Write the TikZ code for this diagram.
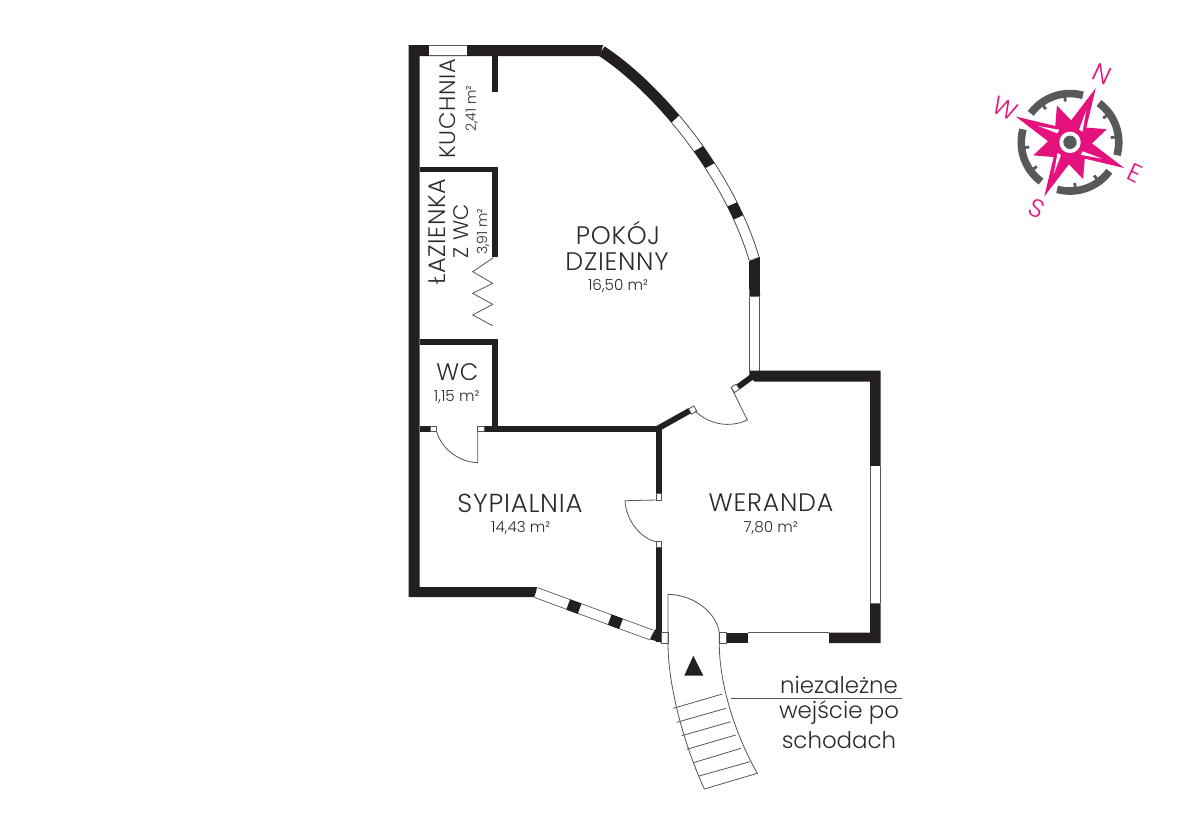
\documentclass[tikz,border=0pt]{standalone}
\usepackage{fontspec}
\setmainfont{Poppins}[UprightFont=* Light]
\newfontfamily\namefont{Poppins}[UprightFont=* Light,LetterSpace=3]
\definecolor{wallcol}{HTML}{231F20}
\definecolor{linecol}{HTML}{555555}
\definecolor{textcol}{HTML}{2B2B2B}
\definecolor{pinkcol}{HTML}{E5127D}
\definecolor{ringcol}{HTML}{58595B}
\tikzset{
  wall/.style={draw=wallcol,line width=0.275cm},
  thinwall/.style={draw=wallcol,line width=0.145cm},
  wallfill/.style={fill=wallcol},
  window/.style={draw=linecol,line width=0.02cm,double=white,double distance=0.235cm},
  jamb/.style={draw=linecol,line width=0.02cm,fill=white},
  thinline/.style={draw=linecol,line width=0.02cm},
  roomname/.style={text=textcol,font=\namefont\fontsize{#1}{20}\selectfont,inner sep=0pt},
  roomname/.default=18,
  roomarea/.style={text=textcol,font=\fontsize{#1}{12}\selectfont,inner sep=0pt},
  roomarea/.default=10.8,
  note/.style={text=textcol,font=\fontsize{16.3}{18}\selectfont,inner sep=0pt},
  compassletter/.style={text=pinkcol,font=\fontsize{18}{20}\selectfont,inner sep=0pt,rotate=-25},
}
\begin{document}
\begin{tikzpicture}[x=0.025cm,y=-0.025cm]
  \useasboundingbox (0,0) rectangle (1200,812);

  % outer walls, left side
  \fill[wallfill] (408.5,45) -- (603,45) -- (600,56) -- (419.5,56) -- (419.5,587)
    -- (537,587) -- (535,597) -- (408.5,597) -- cycle;
  \draw[window] (429,50.7) -- (467,50.7);

  % curved wall of the living room
  \draw[wall] (601.5,51) .. controls (658,88) and (728,172) .. (754,258.3);
  \begin{scope}
    \clip (690,105) -- (714,139.5) -- (684,157) -- (661,133) -- cycle
      (724.7,157.7) -- (747,198) -- (716,211) -- (695,174) -- cycle
      (754,210) -- (770,253.5) -- (738,266) -- (723,225) -- cycle;
    \draw[window] (601.5,51) .. controls (658,88) and (728,172) .. (754,258.3);
  \end{scope}
  \fill[wallfill] (759.8,257) -- (749,261) -- (749.3,296.7) -- (760,296.7) -- cycle;
  \draw[window] (754.6,296.7) -- (754.6,371);

  % inner walls
  \draw[thinwall] (495.3,56) -- (495.3,92);
  \draw[thinwall] (419.5,169.5) -- (498.3,169.5);
  \draw[thinwall] (495.3,166.7) -- (495.3,256.7);
  \draw[thinwall] (419.5,341.7) -- (498.3,341.7);
  \draw[thinwall] (495.3,339) -- (495.3,426);
  \draw[thinwall] (419.5,428.8) -- (430,428.8);
  \draw[thinwall] (484.3,428.8) -- (661.5,428.8);
  \draw[thinwall] (658.7,426) -- (658.7,493);
  \draw[thinwall] (658.7,547) -- (658.7,642);
  \draw[thinwall] (657,429) -- (690,410.5);
  \draw[thinwall] (738,387) -- (753,376);

  % zigzag door
  \draw[thinline] (493.3,257.7) -- (472.7,271.7) -- (492.7,283.3) -- (472.7,293.3)
    -- (492.7,304.3) -- (472.7,315) -- (492.7,325.7);

  % wc door
  \draw[jamb] (430,426) rectangle (436.7,431.7);
  \draw[jamb] (477.7,426) rectangle (484.3,431.7);
  \draw[thinline] (436.7,431.7) .. controls (442,450) and (460,462) .. (477.7,462.7) -- (477.7,431.7);

  % door between bedroom and veranda
  \draw[jamb] (656,493) rectangle (661.5,500);
  \draw[jamb] (656,541) rectangle (661.5,547);
  \draw[thinline] (656,500) -- (625,500.7) .. controls (626,520) and (640,538) .. (656,541.7);

  % veranda door
  \draw[jamb] (696.8,411.1) -- (693.8,405.9) -- (688.6,408.9) -- (691.6,414.1) -- cycle;
  \draw[jamb] (739.5,389.1) -- (736.1,384.1) -- (731.1,387.5) -- (734.5,392.5) -- cycle;
  \draw[thinline] (731.7,388.3) -- (747.3,420) .. controls (730,428) and (710,425) .. (695,411);

  % bedroom window
  \draw[window] (536,592.5) -- (651.5,635);
  \draw[wall] (568.2,604.5) -- (579.6,608.7);
  \draw[wall] (609.7,619.6) -- (621,623.8);
  \fill[wallfill] (655,629.3) -- (661.7,630) -- (661.7,642.7) -- (650,639.3) -- cycle;

  % veranda walls
  \fill[wallfill] (749.3,370.7) -- (880.7,370.7) -- (880.7,466) -- (870,466) -- (870,381.7)
    -- (755,381.7) -- (749.3,378) -- cycle;
  \draw[window] (875.3,466) -- (875.3,603.3);
  \fill[wallfill] (870,603.3) -- (880.7,603.3) -- (880.7,643) -- (829,643) -- (829,632.7)
    -- (870,632.7) -- cycle;
  \draw[window] (748.3,637.8) -- (829,637.8);
  \fill[wallfill] (726,632.7) rectangle (748.3,643);
  \draw[jamb] (661.5,632.7) rectangle (668,643);
  \draw[jamb] (719.3,632.7) rectangle (726,643);

  % entrance and stairs
  \draw[thinline] (668,594.3) .. controls (696.7,595) and (717.3,615) .. (719.3,633)
    -- (719.3,643) .. controls (719,675) and (730,725) .. (757.3,773.3) -- (704.3,789)
    .. controls (680,735) and (668,680) .. (668,643) -- cycle;
  \foreach \ya/\yb [count=\i] in {708.3/694,722.3/708.3,735.7/721.7,749.3/735,762.7/748.3,776/761.7}{
    \pgfmathsetmacro{\xa}{{673.3,676.7,681.7,686.7,693.3,699}[\i-1]}
    \pgfmathsetmacro{\xb}{{722.3,726,730.7,735.7,741,750}[\i-1]}
    \draw[thinline] (\xa,\ya) -- (\xb,\yb);
  }
  \fill[wallfill] (693.3,655.7) -- (703.3,675.7) -- (684.3,675.7) -- cycle;

  % labels
  \node[roomname=16,rotate=90] (kuchnia) at (447.7,109) {KUCHNIA};
  \node[roomarea=10,rotate=90] (kuchniaarea) at (471.7,108.7) {2,41 m²};
  \node[roomname=17,rotate=90] (lazienka) at (436.7,231.7) {ŁAZIENKA};
  \node[roomname=15,rotate=90] (lazienkawc) at (461,231) {Z WC};
  \node[roomarea=10,rotate=90] (lazienkaarea) at (483,231.7) {3,91 m²};
  \node[roomname] (pokoj) at (618,233) {POKÓJ};
  \node[roomname] (dzienny) at (617,261.5) {DZIENNY};
  \node[roomarea] (pokojarea) at (618,286) {16,50 m²};
  \node[roomname=17] (wc) at (457.3,371.7) {WC};
  \node[roomarea] (wcarea) at (456.7,397) {1,15 m²};
  \node[roomname=18.5] (sypialnia) at (520,503) {SYPIALNIA};
  \node[roomarea] (sypialniaarea) at (520.7,528) {14,43 m²};
  \node[roomname] (weranda) at (771,502.7) {WERANDA};
  \node[roomarea] (werandaarea) at (770.7,528) {7,80 m²};

  \node[note] (niezalezne) at (839,685) {niezależne};
  \node[note] (wejscie) at (839,713) {wejście po};
  \node[note] (schodach) at (839,740) {schodach};
  \coordinate (leaderstart) at (730.7,698.7);
  \coordinate (leaderend) at (902.3,698.7);
  \draw[thinline] (leaderstart) -- (leaderend);

  % compass
  \begin{scope}[shift={(1070,142.3)}]
    \foreach \a in {-64.6,25.4,115.4,205.4}{
      \draw[ringcol,line width=0.19cm] ({\a+11}:48.75) arc ({\a+11}:{\a+80}:48.75);
      \draw[ringcol,line width=0.07cm] ({\a+28.5}:46) -- ({\a+28.5}:41);
      \draw[ringcol,line width=0.07cm] ({\a+58}:46) -- ({\a+58}:41);
    }
    \fill[pinkcol] (-64.6:60) \foreach \a in {-64.6,25.4,115.4,205.4}{
      -- ({\a+22.5}:22) -- ({\a+45}:39) -- ({\a+67.5}:22) -- ({\a+90}:60)
    } -- cycle;
    \foreach \a in {-64.6,25.4,115.4,205.4}{
      \fill[white] ({\a+1.6}:36) -- ({\a+10}:15.5) -- ({\a+24}:16.5) -- cycle;
    }
    \fill[pinkcol] (0,0) circle[radius=15];
    \fill[white] (0,0) circle[radius=10.7];
    \fill[ringcol] (0,0) circle[radius=6.7];
  \end{scope}
  \node[compassletter] (north) at (1102.3,74) {N};
  \node[compassletter] (east) at (1135,173.3) {E};
  \node[compassletter] (south) at (1036.7,208.3) {S};
  \node[compassletter] (west) at (1005,108.3) {W};
\end{tikzpicture}
\end{document}
